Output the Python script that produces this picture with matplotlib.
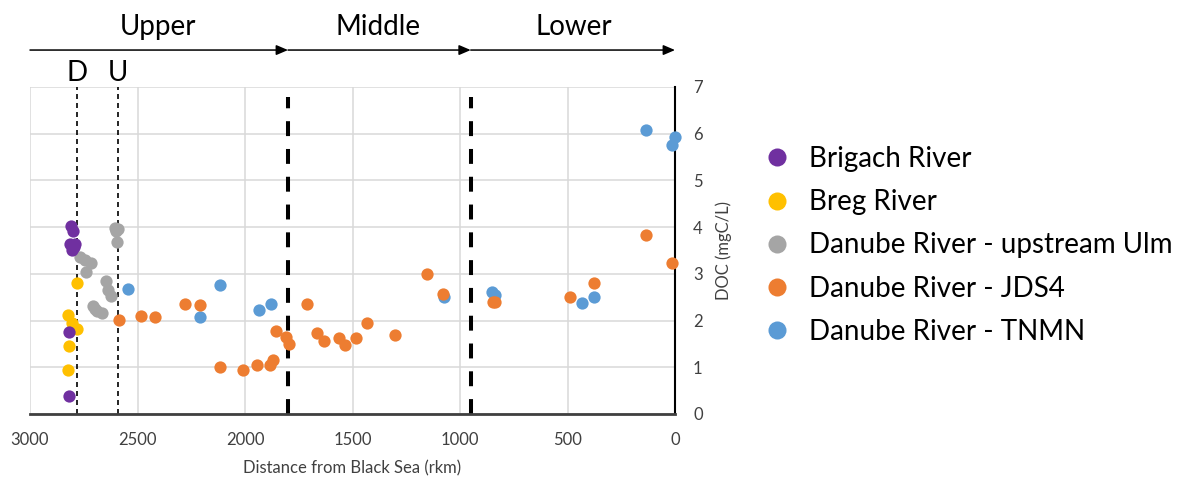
import matplotlib
matplotlib.use("Agg")
import matplotlib.pyplot as plt
from matplotlib.lines import Line2D

plt.rcParams['font.family'] = ['Lato', 'DejaVu Sans']

# DOC along the Danube, distance in river km from the Black Sea
brigach_km = [2811, 2800, 2812, 2790, 2803, 2796, 2817, 2817]
brigach_doc = [4.03, 3.92, 3.63, 3.63, 3.52, 3.58, 1.76, 0.39]

breg_km = [2783, 2822, 2806, 2783, 2819, 2822]
breg_doc = [2.80, 2.12, 1.94, 1.83, 1.46, 0.94]

ulm_km = [2605, 2598, 2590, 2594, 2767, 2744, 2718, 2740, 2648, 2636, 2625,
          2706, 2690, 2667, 2700]
ulm_doc = [3.98, 3.92, 3.95, 3.68, 3.37, 3.30, 3.23, 3.03, 2.85, 2.66, 2.53,
           2.31, 2.21, 2.16, 2.25]

jds4_km = [2585, 2482, 2419, 2280, 2209, 2116, 2009, 1946, 1884, 1871, 1857,
           1811, 1794, 1712, 1667, 1633, 1563, 1536, 1485, 1434, 1301, 1155,
           1078, 845, 838, 488, 375, 135, 15]
jds4_doc = [2.01, 2.09, 2.08, 2.35, 2.33, 1.01, 0.95, 1.04, 1.04, 1.16, 1.78,
            1.64, 1.50, 2.36, 1.73, 1.56, 1.62, 1.48, 1.63, 1.95, 1.70, 2.99,
            2.56, 2.40, 2.39, 2.51, 2.80, 3.83, 3.24]

tnmn_km = [2543, 2116, 2209, 1936, 1880, 1073, 851, 835, 433, 375, 135, 0, 15]
tnmn_doc = [2.67, 2.77, 2.08, 2.23, 2.35, 2.51, 2.61, 2.55, 2.37, 2.51, 6.07,
            5.94, 5.76]

# section boundaries and the D / U markers
sections = ['Upper', 'Middle', 'Lower']
section_bounds = [3000, 1800, 950, 0]
section_label_km = [2405, 1381, 470]
marker_km = {'D': 2780, 'U': 2590}

colors = {
    'Brigach River': '#7030a0',
    'Breg River': '#ffc000',
    'Danube River - upstream Ulm': '#a5a5a5',
    'Danube River - JDS4': '#ed7d31',
    'Danube River - TNMN': '#5b9bd5',
}

fig = plt.figure(figsize=(11.84, 4.8), dpi=100)
ax = fig.add_axes([30 / 1184, 66 / 480, 645 / 1184, 327 / 480])

# draw back to front so the upstream sites sit on top
series = [
    ('Danube River - TNMN', tnmn_km, tnmn_doc),
    ('Danube River - JDS4', jds4_km, jds4_doc),
    ('Danube River - upstream Ulm', ulm_km, ulm_doc),
    ('Breg River', breg_km, breg_doc),
    ('Brigach River', brigach_km, brigach_doc),
]
for i, (name, km, doc) in enumerate(series):
    ax.scatter(km, doc, s=78, color=colors[name], linewidths=0,
               zorder=4 + i, clip_on=False)

ax.set_xlim(3000, 0)
ax.set_ylim(0, 7)
ax.set_xticks(range(3000, -1, -500))
ax.set_yticks(range(0, 8))
ax.grid(True, color='#d9d9d9', lw=1.1, zorder=0)
ax.set_axisbelow(True)

ax.yaxis.tick_right()
ax.yaxis.set_label_position('right')
ax.tick_params(length=0, labelsize=12, colors='#404040')
ax.tick_params(axis='y', pad=13)
ax.tick_params(axis='x', pad=13)
ax.set_xlabel('Distance from Black Sea (rkm)', fontsize=12, color='#404040',
              labelpad=9)
ax.set_ylabel('DOC (mgC/L)', fontsize=12, color='#404040', labelpad=9)

for side in ['left', 'top']:
    ax.spines[side].set_visible(False)
ax.spines['bottom'].set_color('#404040')
ax.spines['bottom'].set_linewidth(2)
ax.spines['right'].set_color('black')
ax.spines['right'].set_linewidth(1.5)

# D and U reference lines
for lab, km in marker_km.items():
    ax.axvline(km, color='black', lw=1.2, dashes=(3, 2.4), zorder=2)
    ax.text(km, 1.018, lab, transform=ax.get_xaxis_transform(),
            ha='center', va='baseline', fontsize=20)

# section boundaries
for km in section_bounds[1:3]:
    ax.axvline(km, ymin=0, ymax=0.97, color='black', lw=2.9,
               dashes=(3.7, 3.2), zorder=2)

# arrows across the top
trans = ax.get_xaxis_transform()
for start, end, name, lx in zip(section_bounds[:-1], section_bounds[1:],
                                sections, section_label_km):
    ax.annotate('', xy=(end, 1.113), xytext=(start, 1.113),
                xycoords=trans, textcoords=trans,
                arrowprops=dict(arrowstyle='-|>,head_length=0.7,head_width=0.3',
                                color='black', lw=1.1, shrinkA=0, shrinkB=0,
                                mutation_scale=10),
                annotation_clip=False)
    ax.text(lx, 1.159, name, transform=trans, ha='center', va='baseline',
            fontsize=20)

handles = [Line2D([], [], marker='o', ls='', markersize=13,
                  markerfacecolor=c, markeredgewidth=0) for c in colors.values()]
fig.legend(handles, list(colors.keys()), loc='upper left',
           bbox_to_anchor=(763 / 1184, 1 - 146 / 480), frameon=False,
           fontsize=20, handlelength=1, handletextpad=0.65, labelspacing=0.62,
           borderpad=0, borderaxespad=0)

fig.savefig('out.png', dpi=100)
